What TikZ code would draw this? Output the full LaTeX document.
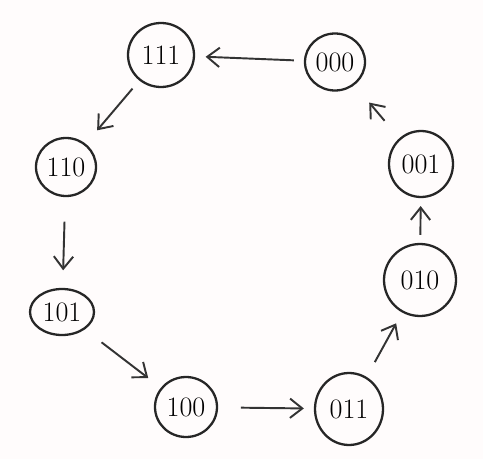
\documentclass[tikz,border=0pt]{standalone}
\usetikzlibrary{shapes.geometric,arrows.meta}
\begin{document}
\begin{tikzpicture}[x=0.02cm,y=-0.02cm,
  st/.style={draw=black!85, ellipse, line width=1.3pt, inner sep=0pt,
    font=\fontsize{16}{18}\selectfont},
  tr/.style={draw=black!80, line width=1.1pt, -{Straight Barb[length=7pt,width=11pt]}}]
\fill[pink!4] (0,0) rectangle (483,459);
\useasboundingbox (0,0) rectangle (483,459);
\node[st, minimum width=1.32cm, minimum height=1.28cm] (n111) at (161,55) {111};
\node[st, minimum width=1.20cm, minimum height=1.14cm] (n000) at (335,62) {000};
\node[st, minimum width=1.20cm, minimum height=1.16cm] (n110) at (66,167) {110};
\node[st, minimum width=1.28cm, minimum height=1.32cm] (n001) at (421,164) {001};
\node[st, minimum width=1.28cm, minimum height=0.92cm] (n101) at (62,312) {101};
\node[st, minimum width=1.44cm, minimum height=1.44cm] (n010) at (420,280) {010};
\node[st, minimum width=1.24cm, minimum height=1.20cm] (n100) at (186,407) {100};
\node[st, minimum width=1.36cm, minimum height=1.44cm] (n011) at (349,409) {011};
\draw[tr, shorten <=5.7pt, shorten >=6pt] (n000) -- (n111);
\draw[tr, shorten <=6pt, shorten >=10pt] (n111) -- (n110);
\draw[tr, shorten <=14pt, shorten >=10pt] (n110) -- (n101);
\draw[tr, shorten <=12pt, shorten >=9pt] (n101) -- (n100);
\draw[tr, shorten <=13pt, shorten >=5.7pt] (n100) -- (n011);
\draw[tr, shorten <=9.6pt, shorten >=7pt] (n011) -- (n010);
\draw[tr, shorten <=4.5pt, shorten >=4.5pt] (n010) -- (n001);
\draw[tr, shorten <=13pt, shorten >=13pt] (n001) -- (n000);
\end{tikzpicture}
\end{document}
